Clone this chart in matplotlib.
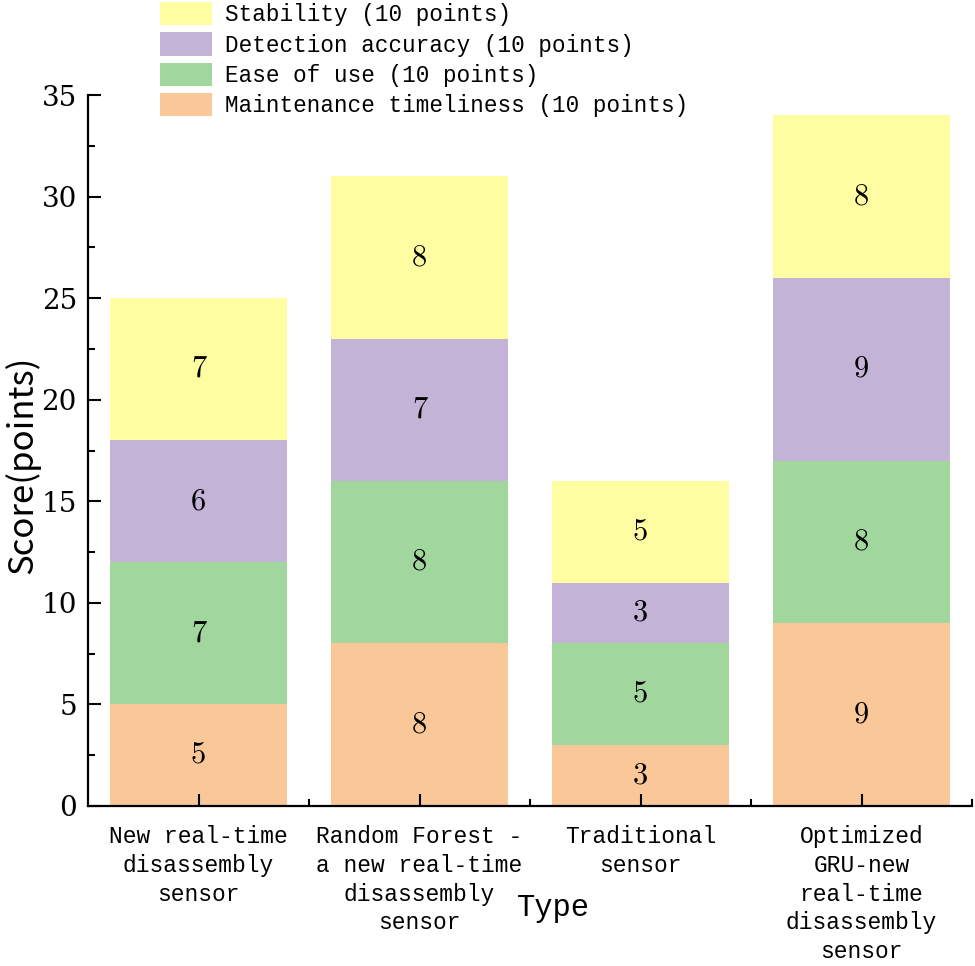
import matplotlib.pyplot as plt
import numpy as np
from matplotlib.ticker import MultipleLocator, FixedLocator
from matplotlib.patches import Patch

# data
types = ["New real-time\ndisassembly\nsensor",
         "Random Forest -\na new real-time\ndisassembly\nsensor",
         "Traditional\nsensor",
         "Optimized\nGRU-new\nreal-time\ndisassembly\nsensor"]
maintenance = [5, 8, 3, 9]
ease = [7, 8, 5, 8]
detection = [6, 7, 3, 9]
stability = [7, 8, 5, 8]

series = [("Maintenance timeliness (10 points)", maintenance, "#FAC898"),
          ("Ease of use (10 points)", ease, "#A1D69D"),
          ("Detection accuracy (10 points)", detection, "#C3B3D6"),
          ("Stability (10 points)", stability, "#FFFDA1")]

mono = "Liberation Mono"
num_font = "cmr10"

fig = plt.figure(figsize=(9.75, 9.66), dpi=100)
ax = fig.add_axes([88 / 975, 1 - 806 / 966, 884 / 975, 711 / 966])

x = np.arange(1, len(types) + 1)
bottom = np.zeros(len(types))
handles = []
for name, vals, col in series:
    bars = ax.bar(x, vals, width=0.8, bottom=bottom, color=col, edgecolor="none")
    ax.bar_label(bars, labels=[str(v) for v in vals], label_type="center",
                 fontsize=22, fontfamily=num_font)
    bottom += np.array(vals)
    handles.append(Patch(facecolor=col, edgecolor="none", label=name))

ax.set_xlim(0.5, 4.5)
ax.set_ylim(0, 35)

ax.spines["top"].set_visible(False)
ax.spines["right"].set_visible(False)
for s in ["left", "bottom"]:
    ax.spines[s].set_linewidth(1.6)

ax.set_xticks(x)
ax.set_xticklabels(types, fontfamily=mono, fontsize=16.5, linespacing=1.31)
ax.xaxis.set_minor_locator(FixedLocator([1.5, 2.5, 3.5, 4.5]))
ax.yaxis.set_major_locator(MultipleLocator(5))
ax.yaxis.set_minor_locator(MultipleLocator(2.5))
ax.tick_params(which="both", direction="in", width=1.5)
ax.tick_params(which="major", length=9)
ax.tick_params(which="minor", length=5)
ax.tick_params(axis="x", which="major", pad=14)
ax.tick_params(axis="y", which="major", pad=8)
for lab in ax.get_yticklabels():
    lab.set_fontfamily("DejaVu Serif")
    lab.set_fontsize(20)

ax.set_xlabel("Type", fontfamily=mono, fontsize=22)
ax.xaxis.set_label_coords(0.527, -0.1435)
ax.xaxis.label.set_va("center")

ax.set_ylabel("Score(points)", fontfamily=["Noto Sans CJK SC", "DejaVu Sans"],
              fontsize=25, fontweight="light")
ax.yaxis.set_label_coords(-0.054, 0.48)

fig.legend(handles=handles[::-1], loc="upper left",
           bbox_to_anchor=(160 / 975, 1 - 2 / 966), frameon=False,
           prop={"family": mono, "size": 16.3}, borderpad=0, borderaxespad=0,
           handlelength=2.3, handleheight=1.2, handletextpad=0.57,
           labelspacing=0.27)

fig.savefig("out.png", dpi=100)
